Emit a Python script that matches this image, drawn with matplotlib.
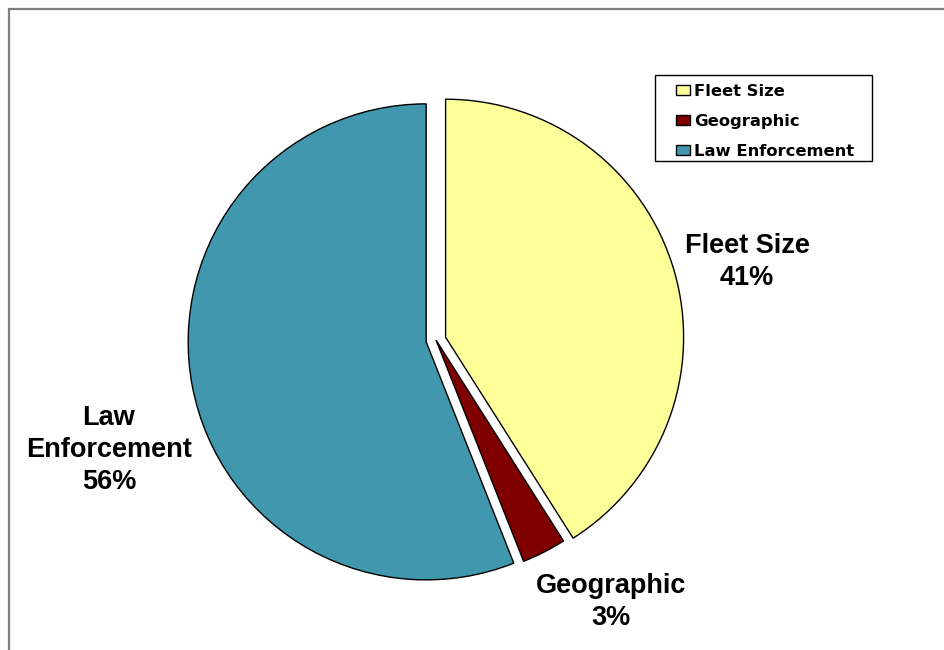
import matplotlib
matplotlib.use("Agg")
import matplotlib.pyplot as plt
from matplotlib.patches import Rectangle

# data
categories = ["Fleet Size", "Geographic", "Law Enforcement"]
shares = [41, 3, 56]
colors = ["#FFFF99", "#800000", "#4097AE"]
explode = [10, 0, 10]  # pixels, geographic slice stays in place

W, H = 945, 650
fig = plt.figure(figsize=(W / 100, H / 100), dpi=100)
ax = fig.add_axes([0, 0, 1, 1])

center = (436, H - 340)
radius = 238
wedges, _ = ax.pie(
    shares, explode=explode, colors=colors, startangle=90, counterclock=False,
    radius=radius, center=center,
    wedgeprops=dict(edgecolor="black", linewidth=1.0),
)
ax.set_xlim(0, W)
ax.set_ylim(0, H)
ax.set_aspect("equal")
ax.axis("off")

# slice labels (name + percentage), positions in pixel layout
label_pos = [(747, 262), (611, 602), (109, 450)]
for name, pct, (x, y) in zip(categories, shares, label_pos):
    text = name.replace(" Enforcement", "\nEnforcement") if name == "Law Enforcement" else name
    ax.text(x, H - y, f"{text}\n{pct}%", ha="center", va="center",
            fontsize=19.5, fontweight="bold", family="Liberation Sans",
            linespacing=1.3)

# outer chart border (only top/left visible in the reference)
ax.add_patch(Rectangle((8.5, -20), 960, H - 8.5 + 20, fill=False,
                       edgecolor="#808080", linewidth=1.6))

# legend box + entries
ax.add_patch(Rectangle((655, H - 161), 217, 86, fill=False,
                       edgecolor="black", linewidth=1.0))
leg = ax.legend(
    wedges, categories, loc="upper left",
    bbox_to_anchor=(676 / W, 1 - 84 / H), bbox_transform=fig.transFigure,
    frameon=False, borderpad=0, borderaxespad=0,
    handlelength=0.88, handleheight=0.58, handletextpad=0.2, labelspacing=0.9,
    prop=dict(family="DejaVu Sans", weight="bold", size=11.8),
)

fig.savefig("out.png", dpi=100)
plt.close(fig)
